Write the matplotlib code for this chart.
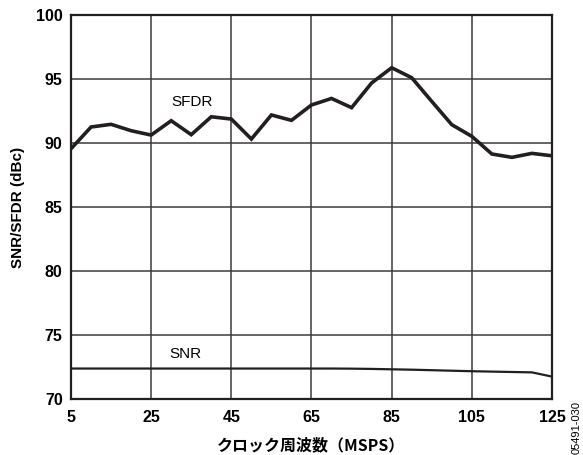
import matplotlib.pyplot as plt
import numpy as np

plt.rcParams['font.family'] = ['Liberation Sans', 'Noto Sans CJK JP', 'DejaVu Sans']

# clock rate in MSPS
clock = [5, 10, 15, 20, 25, 30, 35, 40, 45, 50, 55, 60, 65,
         70, 75, 80, 85, 90, 95, 100, 105, 110, 115, 120, 125]
sfdr = [89.55, 91.25, 91.46, 90.96, 90.62, 91.74, 90.65, 92.05, 91.87, 90.31,
        92.19, 91.77, 92.97, 93.48, 92.76, 94.69, 95.88, 95.10, 93.25, 91.43,
        90.52, 89.14, 88.88, 89.19, 89.00]
snr = [72.38, 72.38, 72.38, 72.38, 72.38, 72.38, 72.38, 72.38, 72.38, 72.38,
       72.38, 72.38, 72.38, 72.38, 72.37, 72.35, 72.32, 72.29, 72.25, 72.21,
       72.17, 72.14, 72.11, 72.08, 71.75]

xticks = [5, 25, 45, 65, 85, 105, 125]
yticks = [70, 75, 80, 85, 90, 95, 100]

fig = plt.figure(figsize=(5.83, 4.55), dpi=100)
ax = fig.add_axes([71/583, 1 - 399/455, 481/583, 384/455])

ax.plot(clock, sfdr, color='#231f20', lw=2.6, solid_joinstyle='miter', zorder=3)
ax.plot(clock, snr, color='#231f20', lw=1.6, zorder=3)

ax.set_xlim(5, 125)
ax.set_ylim(70, 100)
ax.set_xticks(xticks)
ax.set_yticks(yticks)
ax.grid(True, color='#3a3a3a', lw=1.1)
ax.tick_params(length=0, labelsize=11.5)
ax.tick_params(axis='x', pad=8)
ax.tick_params(axis='y', pad=6)
for lbl in ax.get_xticklabels() + ax.get_yticklabels():
    lbl.set_fontweight('bold')
for s in ax.spines.values():
    s.set_linewidth(1.6)
    s.set_color('#231f20')

ax.text(35.25, 93.24, 'SFDR', fontsize=11, ha='center', va='center')
ax.text(33.5, 73.52, 'SNR', fontsize=11, ha='center', va='center')

ax.set_xlabel('クロック周波数（MSPS）', fontsize=11.5, fontweight='bold',
              family=['Noto Sans CJK JP', 'DejaVu Sans'], labelpad=9)
ax.set_ylabel('SNR/SFDR (dBc)', fontsize=11, fontweight='bold', labelpad=8)

fig.text(577/583, 1 - 427/455, '05491-030', rotation=90, fontsize=8,
         ha='center', va='center')

fig.savefig('out.png', dpi=100)
